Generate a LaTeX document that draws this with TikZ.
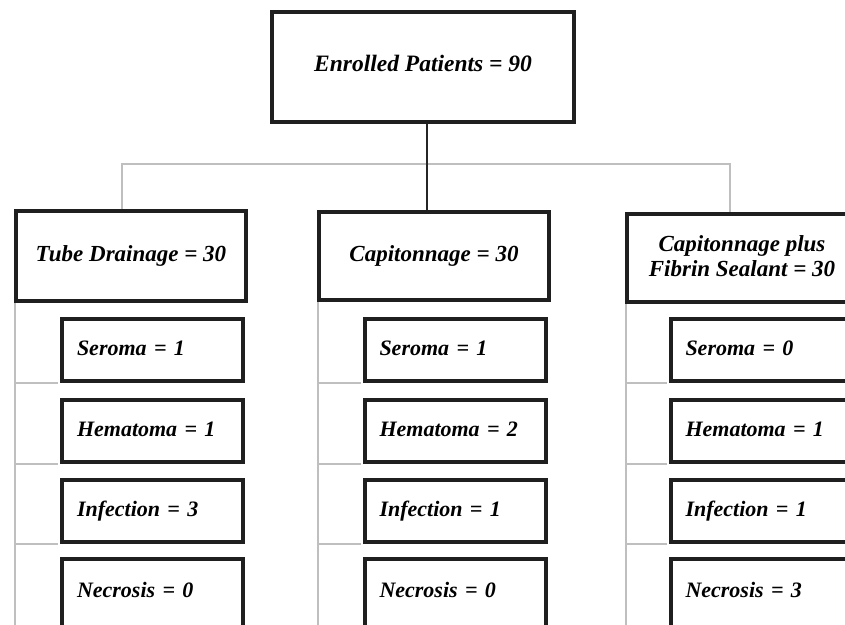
\documentclass[tikz,border=0pt]{standalone}
\usepackage{fontspec}
\setmainfont{Liberation Serif}
\begin{document}
\begin{tikzpicture}[x=1pt,y=-1pt,
  bigbox/.style={draw=black!88, line width=4pt, fill=white, inner sep=0pt,
    font=\fontsize{23}{25}\selectfont\bfseries\itshape, align=center},
  subbox/.style={draw=black!88, line width=4pt, fill=white, inner xsep=15pt, inner ysep=0pt,
    minimum height=62pt, text width=151pt, align=left,
    font=\fontsize{22}{25}\selectfont\bfseries\itshape},
  conn/.style={draw=black!85, line width=2pt},
  guide/.style={draw=black!25, line width=1.3pt}
]
\useasboundingbox (0,0) rectangle (845,624);
\clip (0,0) rectangle (845,624);
\fill[white] (0,0) rectangle (845,624);

% top box
\node[bigbox, minimum width=302pt, minimum height=110pt, font=\fontsize{23.5}{25}\selectfont\bfseries\itshape] (top) at (423,67) {\raisebox{8pt}{Enrolled Patients = 90}};

% level boxes
\node[bigbox, minimum width=230pt, minimum height=90pt] (b1) at (131,256) {\raisebox{4pt}{Tube Drainage = 30}};
\node[bigbox, minimum width=230pt, minimum height=88pt] (b2) at (434,256) {\raisebox{4pt}{Capitonnage = 30}};
\node[bigbox, minimum width=230pt, minimum height=88pt] (b3) at (742,258) {\raisebox{4pt}{\shortstack{Capitonnage plus\\[1pt]Fibrin Sealant = 30}}};

% connectors from top
\coordinate (jl) at (122,164);
\coordinate (jr) at (730,164);
\coordinate (jc) at (427,164);
\draw[guide] (jl |- b1.north) -- (jl) -- (jr) -- (jr |- b3.north);
\draw[conn] (jc |- top.south) -- (jc |- b2.north);

% column spines
\coordinate (v1) at (15,630);
\coordinate (v2) at (318,630);
\coordinate (v3) at (626,630);
\draw[guide] (v1 |- b1.south) -- (v1);
\draw[guide] (v2 |- b2.south) -- (v2);
\draw[guide] (v3 |- b3.south) -- (v3);

% column 1
\node[subbox] (s11) at (152.5,350) {\raisebox{3pt}{Seroma = 1}};
\node[subbox] (s12) at (152.5,431) {\raisebox{3pt}{Hematoma = 1}};
\node[subbox] (s13) at (152.5,511) {\raisebox{3pt}{Infection = 3}};
\node[subbox, minimum height=70pt] (s14) at (152.5,594) {\raisebox{8pt}{Necrosis = 0}};
% column 2
\node[subbox] (s21) at (455,350) {\raisebox{3pt}{Seroma = 1}};
\node[subbox] (s22) at (455,431) {\raisebox{3pt}{Hematoma = 2}};
\node[subbox] (s23) at (455,511) {\raisebox{3pt}{Infection = 1}};
\node[subbox, minimum height=70pt] (s24) at (455,594) {\raisebox{8pt}{Necrosis = 0}};
% column 3
\node[subbox] (s31) at (761,350) {\raisebox{3pt}{Seroma = 0}};
\node[subbox] (s32) at (761,431) {\raisebox{3pt}{Hematoma = 1}};
\node[subbox] (s33) at (761,511) {\raisebox{3pt}{Infection = 1}};
\node[subbox, minimum height=70pt] (s34) at (761,594) {\raisebox{8pt}{Necrosis = 3}};

% branches
\foreach \c in {1,2,3}{
  \foreach \r in {1,2,3}{
    \draw[guide] (v\c |- s\c\r.south west) -- ([xshift=-2pt]s\c\r.south west);
  }
}
\end{tikzpicture}
\end{document}
